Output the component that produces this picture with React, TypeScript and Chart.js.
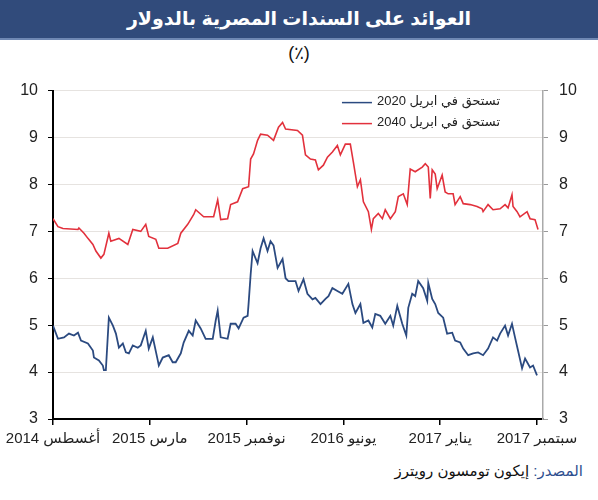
import React, { useEffect, useRef } from "react";
import { Chart, registerables } from "chart.js";

Chart.register(...registerables);

const titleText = "العوائد على السندات المصرية بالدولار";
const subtitleText = "(٪)";
const sourceLabel = "المصدر:";
const sourceName = "إيكون تومسون رويترز";

const xTickLabels = ["أغسطس 2014", "مارس 2015", "نوفمبر 2015", "يونيو 2016", "يناير 2017", "سبتمبر 2017"];
const xTickMonths = [0, 7.4, 14.8, 22.2, 29.6, 37];
const xMax = 37.46;
const yMin = 3;
const yMax = 10;

const label2020 = "تستحق في ابريل 2020";
const label2040 = "تستحق في ابريل 2040";
const color2020 = "#2b4a80";
const color2040 = "#e2313c";

// months since start of Aug 2014
const months2040 = [
  0.0, 0.38, 0.76, 1.91, 1.98, 2.37, 2.67, 3.05, 3.28, 3.66, 3.89, 4.27, 4.42, 5.04, 5.72, 6.1, 6.71, 7.09, 7.32, 7.86,
  8.09, 8.77, 9.54, 9.77, 10.3, 10.76, 10.91, 11.52, 12.28, 12.59, 12.82, 13.35, 13.58, 14.11, 14.5, 14.95, 15.11, 15.33,
  15.64, 15.87, 16.4, 16.86, 17.24, 17.55, 17.78, 18.69, 19.07, 19.3, 19.68, 20.06, 20.29, 20.67, 20.98, 21.36, 21.74,
  21.97, 22.35, 22.73, 22.96, 23.27, 23.5, 23.73, 24.11, 24.34, 24.49, 24.87, 25.18, 25.4, 25.79, 26.17, 26.4, 26.78,
  27.08, 27.31, 27.69, 28.23, 28.46, 28.69, 28.84, 28.99, 29.22, 29.37, 29.75, 29.98, 30.21, 30.59, 30.74, 31.13, 31.36,
  31.89, 32.42, 32.8, 32.88, 33.26, 33.64, 34.18, 34.56, 34.79, 35.09, 35.17, 35.48, 35.7, 36.24, 36.47, 36.85, 37.08,
];
const yields2040 = [
  7.27, 7.1, 7.06, 7.04, 7.07, 6.96, 6.85, 6.72, 6.58, 6.43, 6.51, 6.96, 6.79, 6.85, 6.72, 7.04, 7.0, 7.15, 6.89, 6.83,
  6.64, 6.64, 6.74, 6.96, 7.15, 7.36, 7.46, 7.31, 7.31, 7.67, 7.25, 7.27, 7.57, 7.63, 7.91, 7.95, 8.54, 8.65,
  8.94, 9.07, 9.05, 8.94, 9.22, 9.32, 9.18, 9.15, 9.05, 8.63, 8.54, 8.52, 8.31, 8.41, 8.58, 8.69, 8.83,
  8.63, 8.86, 8.86, 8.48, 7.95, 8.1, 7.63, 7.42, 7.04, 7.27, 7.38, 7.27, 7.46, 7.27, 7.42, 7.74, 7.8,
  7.57, 8.33, 8.27, 8.37, 8.44, 8.37, 7.7, 8.31, 8.22, 7.91, 8.2, 7.84, 7.8, 7.8, 7.57, 7.74, 7.59,
  7.57, 7.53, 7.48, 7.42, 7.57, 7.46, 7.48, 7.57, 7.5, 7.78, 7.53, 7.42, 7.31, 7.42, 7.27, 7.25, 7.04,
];

const months2020 = [
  0.0, 0.38, 0.84, 1.22, 1.6, 1.91, 2.14, 2.67, 3.05, 3.13, 3.51, 3.81, 3.89, 4.04, 4.27, 4.58, 4.81, 5.04, 5.34, 5.57,
  5.8, 6.1, 6.48, 6.71, 7.09, 7.32, 7.63, 8.01, 8.09, 8.39, 8.85, 9.15, 9.38, 9.77, 9.99, 10.38, 10.68, 10.91, 11.29,
  11.67, 12.21, 12.44, 12.59, 12.82, 13.35, 13.58, 13.96, 14.19, 14.57, 14.88, 14.95, 15.11, 15.26, 15.64, 15.87, 16.1,
  16.4, 16.63, 16.86, 17.17, 17.55, 17.78, 18.0, 18.54, 18.77, 19.15, 19.45, 19.84, 20.06, 20.45, 20.83, 21.06, 21.36,
  21.74, 22.12, 22.58, 22.89, 23.12, 23.5, 23.73, 24.11, 24.41, 24.64, 25.02, 25.4, 25.79, 26.01, 26.32, 26.7, 27.01,
  27.16, 27.46, 27.69, 27.92, 28.3, 28.61, 28.69, 28.99, 29.22, 29.45, 29.83, 30.13, 30.52, 30.74, 31.13, 31.36, 31.74,
  32.12, 32.5, 32.88, 33.26, 33.64, 33.95, 34.18, 34.56, 34.79, 35.09, 35.32, 35.55, 35.86, 36.09, 36.47, 36.7, 37.0,
];
const yields2020 = [
  4.99, 4.71, 4.74, 4.82, 4.78, 4.84, 4.67, 4.61, 4.46, 4.31, 4.25, 4.14, 4.04, 4.04, 5.16, 4.99, 4.82, 4.52, 4.61, 4.42,
  4.4, 4.57, 4.52, 4.57, 4.88, 4.5, 4.74, 4.25, 4.14, 4.31, 4.36, 4.21, 4.21, 4.4, 4.63, 4.88, 4.78, 5.1, 4.93,
  4.71, 4.71, 5.1, 5.31, 4.74, 4.71, 5.03, 5.03, 4.93, 5.16, 5.2, 5.45, 6.08, 6.58, 6.32, 6.64, 6.85,
  6.58, 6.79, 6.7, 6.22, 6.41, 6.0, 5.94, 5.94, 5.73, 5.98, 5.67, 5.55, 5.58, 5.45, 5.56, 5.62, 5.79,
  5.73, 5.67, 5.88, 5.45, 5.26, 5.45, 5.05, 5.1, 4.95, 5.24, 5.2, 5.03, 5.2, 4.99, 5.41, 5.03, 4.78,
  5.37, 5.67, 5.62, 5.94, 5.79, 5.52, 5.9, 5.56, 5.45, 5.26, 5.16, 4.82, 4.84, 4.67, 4.63, 4.5, 4.36,
  4.4, 4.42, 4.36, 4.5, 4.74, 4.67, 4.82, 4.99, 4.78, 5.03, 4.74, 4.46, 4.08, 4.29, 4.1, 4.14, 3.93,
];

const FONT = "'Liberation Sans', 'DejaVu Sans', Arial, sans-serif";

const legendPlugin = {
  id: "insideLegend",
  afterDraw(chart: any) {
    const ctx = chart.ctx;
    const area = chart.chartArea;
    const textRight = area.right - 43;
    ctx.save();
    ctx.font = "13px " + FONT;
    ctx.textBaseline = "middle";
    ctx.textAlign = "right";
    ctx.direction = "rtl";
    chart.data.datasets.forEach((ds: any, i: number) => {
      const y = area.top + 11 + i * 21;
      ctx.fillStyle = "#222";
      ctx.fillText(ds.label, textRight, y);
      const w = ctx.measureText(ds.label).width;
      ctx.strokeStyle = ds.borderColor;
      ctx.lineWidth = 1.5;
      ctx.beginPath();
      ctx.moveTo(textRight - w - 35, y + 1);
      ctx.lineTo(textRight - w - 5, y + 1);
      ctx.stroke();
    });
    ctx.restore();
  },
};

function YieldChart() {
  const ref = useRef<HTMLCanvasElement>(null);
  useEffect(() => {
    if (!ref.current) return;
    const chart = new Chart(ref.current, {
      type: "line",
      data: {
        datasets: [
          {
            label: label2020,
            data: months2020.map((m, i) => ({ x: m, y: yields2020[i] })),
            borderColor: color2020,
            backgroundColor: color2020,
            borderWidth: 1.8,
            pointRadius: 0,
            tension: 0,
            yAxisID: "y",
          },
          {
            label: label2040,
            data: months2040.map((m, i) => ({ x: m, y: yields2040[i] })),
            borderColor: color2040,
            backgroundColor: color2040,
            borderWidth: 1.6,
            pointRadius: 0,
            tension: 0,
            yAxisID: "y",
          },
        ],
      },
      options: {
        responsive: false,
        animation: false,
        devicePixelRatio: 1,
        layout: { padding: { top: 18, left: 0, right: 0, bottom: 0 } },
        plugins: { legend: { display: false }, tooltip: { enabled: false }, title: { display: false } },
        scales: {
          x: {
            type: "linear",
            min: 0,
            max: xMax,
            afterBuildTicks: (scale: any) => {
              scale.ticks = xTickMonths.map((v) => ({ value: v }));
            },
            afterFit: (scale: any) => {
              scale.height = 41;
            },
            ticks: {
              autoSkip: false,
              maxRotation: 0,
              padding: 5,
              color: "#222",
              font: { size: 15, family: FONT },
              callback: (_v: any, i: number) => xTickLabels[i],
            },
            grid: { drawOnChartArea: false, drawTicks: true, tickLength: 6, color: "#000", lineWidth: 1.5 },
            border: { display: true, color: "#000", width: 2 },
          },
          y: {
            position: "left",
            min: yMin,
            max: yMax,
            afterFit: (scale: any) => {
              scale.width = 53;
            },
            ticks: { stepSize: 1, padding: 10, color: "#222", font: { size: 16, family: FONT } },
            grid: { color: "#e6e3e0", lineWidth: 1, tickColor: "#000", tickLength: 5 },
            border: { display: true, color: "#000", width: 2 },
          },
          y2: {
            position: "right",
            min: yMin,
            max: yMax,
            afterFit: (scale: any) => {
              scale.width = 55;
            },
            ticks: { stepSize: 1, padding: 11, color: "#222", font: { size: 16, family: FONT } },
            grid: { drawOnChartArea: false, color: "#999", tickColor: "#999", tickLength: 5 },
            border: { display: true, color: "#aaa", width: 1.5 },
          },
        },
      },
      plugins: [legendPlugin],
    } as any);
    return () => chart.destroy();
  }, []);
  return <canvas ref={ref} width={598} height={390} style={{ width: 598, height: 390, display: "block" }} />;
}

export default function App() {
  return (
    <div
      style={{
        position: "absolute",
        left: 0,
        top: 0,
        width: 598,
        height: 500,
        background: "#fff",
        fontFamily: FONT,
        overflow: "hidden",
      }}
    >
      <div
        style={{
          position: "absolute",
          left: 0,
          top: 0,
          width: 598,
          height: 38,
          background: "#314b7b",
          borderBottom: "2px solid #6f88b3",
          color: "#fff",
          fontWeight: "bold",
          fontSize: 19,
          lineHeight: "38px",
          textAlign: "center",
        }}
        dir="rtl"
      >
        {titleText}
      </div>
      <div
        style={{
          position: "absolute",
          left: 0,
          top: 42,
          width: 598,
          height: 22,
          lineHeight: "22px",
          fontSize: 18,
          textAlign: "center",
          color: "#111",
        }}
      >
        {subtitleText}
      </div>
      <div style={{ position: "absolute", left: 0, top: 70 }}>
        <YieldChart />
      </div>
      <div
        dir="rtl"
        style={{
          position: "absolute",
          right: 15,
          top: 460,
          height: 22,
          lineHeight: "22px",
          fontSize: 15,
          color: "#111",
          whiteSpace: "nowrap",
        }}
      >
        <span style={{ color: "#2f4f8f" }}>{sourceLabel}</span> {sourceName}
      </div>
    </div>
  );
}
